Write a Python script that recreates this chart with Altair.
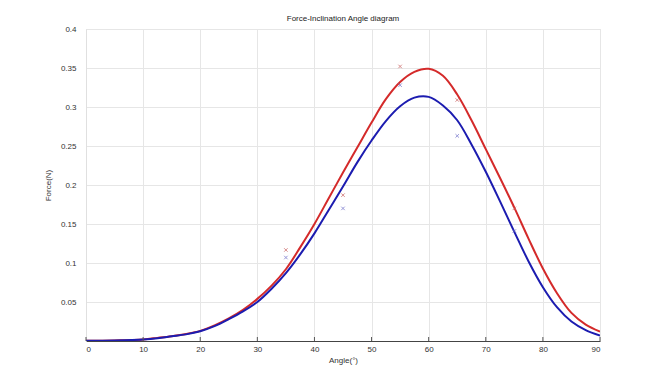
import altair as alt
import pandas as pd

# Fitted curves
angle_curve = [0, 5, 10, 12.5, 15, 17.5, 20, 22.5, 25, 27.5, 30, 32.5, 35, 37.5, 40, 42.5, 45,
               47.5, 50, 52.5, 55, 57.5, 60, 62.5, 65, 67.5, 70, 72.5, 75, 77.5, 80, 82.5, 85, 87.5, 90]
red_curve = [0.0003, 0.0008, 0.002, 0.004, 0.0062, 0.009, 0.013, 0.020, 0.029, 0.040, 0.054, 0.071,
             0.092, 0.120, 0.150, 0.183, 0.216, 0.248, 0.280, 0.310, 0.332, 0.345, 0.349, 0.340,
             0.316, 0.283, 0.246, 0.209, 0.171, 0.131, 0.093, 0.061, 0.036, 0.021, 0.012]
blue_curve = [0.0003, 0.0008, 0.002, 0.0035, 0.006, 0.0085, 0.0125, 0.019, 0.028, 0.038, 0.050, 0.067,
              0.087, 0.111, 0.138, 0.168, 0.198, 0.229, 0.257, 0.282, 0.301, 0.312, 0.313, 0.302,
              0.283, 0.252, 0.217, 0.179, 0.140, 0.102, 0.069, 0.043, 0.025, 0.014, 0.007]

# Measured points
angle_pts = [35, 45, 55, 65, 75]
red_pts = [0.1167, 0.187, 0.352, 0.309, 0.170]
blue_pts = [0.107, 0.170, 0.328, 0.263, 0.141]

x_ticks = [0, 10, 20, 30, 40, 50, 60, 70, 80, 90]
y_ticks = [0, 0.05, 0.1, 0.15, 0.2, 0.25, 0.3, 0.35, 0.4]

RED = "#d42a2a"
BLUE = "#1c1cb0"

curve_df = pd.concat([
    pd.DataFrame({"angle": angle_curve, "force": red_curve, "series": "red"}),
    pd.DataFrame({"angle": angle_curve, "force": blue_curve, "series": "blue"}),
])
pts_df = pd.concat([
    pd.DataFrame({"angle": angle_pts, "force": red_pts, "series": "red"}),
    pd.DataFrame({"angle": angle_pts, "force": blue_pts, "series": "blue"}),
])
tick_df = pd.DataFrame({"angle": x_ticks})

xscale = alt.Scale(domain=[0, 90], nice=False)
yscale = alt.Scale(domain=[0, 0.4], nice=False)
cscale = alt.Scale(domain=["red", "blue"], range=[RED, BLUE])
pcscale = alt.Scale(domain=["red", "blue"], range=["#c85a5a", "#6a6ac8"])

x_axis = alt.Axis(values=x_ticks, title="Angle(°)", grid=True, gridColor="#e6e6e6",
                  domainColor="#444444", domainWidth=1.2, ticks=False, labelOverlap=False,
                  labelFontSize=8, labelColor="#333333", labelFont="Liberation Sans",
                  titleFontSize=8, titleFontWeight="normal", titleColor="#333333",
                  titleFont="Liberation Sans", labelPadding=4, titlePadding=3)
y_axis = alt.Axis(values=y_ticks, title="Force(N)",
                  labelExpr="datum.value == 0 ? '' : format(datum.value, '~g')", labelOverlap=False,
                  grid=True, gridColor="#e6e6e6", domainColor="#e0e0e0", ticks=False,
                  labelFontSize=8, labelColor="#333333", labelFont="Liberation Sans",
                  titleFontSize=8, titleFontWeight="normal", titleColor="#333333",
                  titleFont="Liberation Sans", labelPadding=10, titlePadding=8)

lines = alt.Chart(curve_df).mark_line(strokeWidth=2, interpolate="catmull-rom", clip=True).encode(
    x=alt.X("angle:Q", scale=xscale, axis=x_axis),
    y=alt.Y("force:Q", scale=yscale, axis=y_axis),
    color=alt.Color("series:N", scale=cscale, legend=None),
    detail="series:N",
)

points = alt.Chart(pts_df).mark_point(shape="M-1,-1L1,1M1,-1L-1,1", size=12, strokeWidth=1,
                                      filled=False).encode(
    x=alt.X("angle:Q", scale=xscale, axis=x_axis),
    y=alt.Y("force:Q", scale=yscale, axis=y_axis),
    color=alt.Color("series:N", scale=pcscale, legend=None),
)

ticks = alt.Chart(tick_df).mark_rule(color="#555555", strokeWidth=1).encode(
    x=alt.X("angle:Q", scale=xscale, axis=x_axis),
    y=alt.value(308),
    y2=alt.value(312),
)

chart = alt.layer(lines, points, ticks).resolve_scale(color="independent").properties(
    width=514,
    height=312,
    title=alt.TitleParams("Force-Inclination Angle diagram", fontSize=8, fontWeight="normal",
                          font="Liberation Sans", color="#222222", offset=2),
    autosize=alt.AutoSizeParams(type="none"),
    padding={"left": 78, "top": 21, "right": 50, "bottom": 30},
).configure_view(stroke=None).configure(background="white")

chart.save("out.html", embed_options={"renderer": "svg", "actions": False})
